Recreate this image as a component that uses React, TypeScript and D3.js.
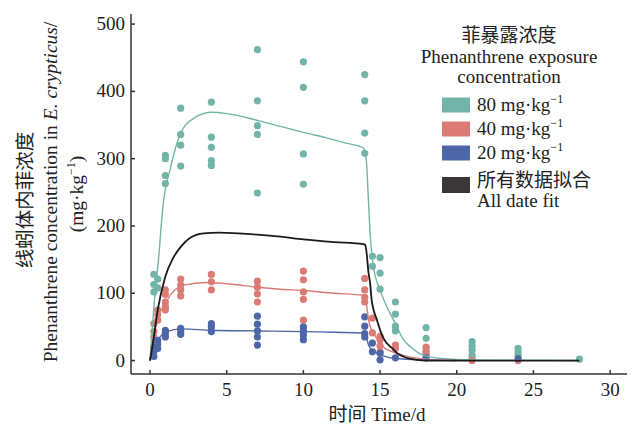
import React from "react";
import * as d3 from "d3";

// measured points: [time (d), concentration (mg/kg)]
const pts80: [number, number][] = [
  [0.25, 128], [0.25, 113], [0.25, 102], [0.5, 121], [0.5, 108],
  [1, 305], [1, 300], [1, 275], [1, 263],
  [2, 375], [2, 336], [2, 320], [2, 289],
  [4, 384], [4, 332], [4, 317], [4, 297], [4, 290],
  [7, 462], [7, 386], [7, 349], [7, 336], [7, 249],
  [10, 444], [10, 406], [10, 307], [10, 262],
  [14, 425], [14, 386], [14, 338], [14, 308],
  [14.5, 155], [14.5, 140],
  [15, 153], [15, 130], [15, 106],
  [16, 87], [16, 69], [16, 51], [16, 44],
  [18, 49], [18, 33], [18, 18], [18, 12],
  [21, 28], [21, 22], [21, 16], [21, 8], [21, 4],
  [24, 18], [24, 13], [24, 8],
  [28, 2],
];

const pts40: [number, number][] = [
  [0.25, 43], [0.25, 35], [0.25, 55],
  [0.5, 75], [0.5, 68], [0.5, 60],
  [1, 105], [1, 98], [1, 87], [1, 80], [1, 75],
  [2, 121], [2, 112], [2, 105], [2, 96],
  [4, 128], [4, 117], [4, 105],
  [7, 118], [7, 109], [7, 99], [7, 87],
  [10, 133], [10, 120], [10, 102], [10, 91], [10, 60],
  [14, 122], [14, 105], [14, 94], [14, 87],
  [14.5, 63], [14.5, 41],
  [15, 36], [15, 31], [15, 22], [15, 13],
  [16, 23], [16, 18],
  [18, 20], [18, 13], [18, 8],
  [21, 0], [24, 0],
];

const pts20: [number, number][] = [
  [0.25, 20], [0.25, 13], [0.25, 6],
  [0.5, 30], [0.5, 25], [0.5, 18],
  [1, 45], [1, 40], [1, 35],
  [2, 48], [2, 43], [2, 39],
  [4, 55], [4, 50], [4, 43],
  [7, 66], [7, 54], [7, 44], [7, 35], [7, 23],
  [10, 50], [10, 44], [10, 38], [10, 31],
  [14, 65], [14, 51], [14, 40], [14, 35],
  [14.5, 26], [14.5, 13],
  [15, 11], [15, 1],
  [16, 4], [18, 4], [24, 3],
];

// fitted curves
const fit80: [number, number][] = [
  [0, 0], [0.33, 100], [0.55, 150], [0.87, 235], [1.3, 283], [2, 338], [3, 362],
  [4, 369], [5, 367], [7, 357], [8.5, 348], [10, 339], [11.5, 331], [12.8, 323],
  [13.9, 316], [14.1, 298], [14.25, 234],
  [14.35, 189], [14.57, 139], [15, 105], [15.44, 80], [16, 55], [16.5, 32], [17, 20],
  [17.8, 8], [19, 3], [21, 1], [28, 0],
];
const fit40: [number, number][] = [
  [0, 0], [0.25, 38], [0.54, 65], [1, 85], [1.5, 102], [2.2, 112], [3.7, 116],
  [5.5, 113], [7, 109], [8.5, 106], [10, 104], [12, 100], [13.9, 97], [14.1, 85],
  [14.25, 60], [14.45, 45], [14.8, 33],
  [15.2, 20], [16.1, 11], [17, 5], [18, 2], [20, 0],
];
const fit20: [number, number][] = [
  [0, 0], [0.33, 20], [0.65, 35], [1.1, 43], [2, 47], [4, 45], [7, 44], [10, 43],
  [12, 42], [13.9, 41], [14.1, 35], [14.25, 23], [14.45, 16], [14.8, 11], [15.2, 7],
  [16, 3], [18, 1], [20, 0],
];
const fitAll: [number, number][] = [
  [0, 0], [0.25, 35], [0.5, 75], [1, 125], [1.5, 152], [2, 169], [2.6, 182],
  [3.5, 189], [4.5, 190], [7, 187], [8.5, 184], [10, 180], [12, 176], [13.9, 173],
  [14.03, 172], [14.1, 164],
  [14.25, 130], [14.35, 115], [14.45, 90], [14.8, 60], [15.2, 34], [15.9, 16],
  [16.1, 11], [16.5, 6], [17.4, 1], [18, 0], [28, 0],
];

const xTicks = [0, 5, 10, 15, 20, 25, 30];
const yTicks = [0, 100, 200, 300, 400, 500];
const legendRows = ["80", "40", "20"];

const C80 = "#72b5a8";
const C40 = "#dc7b76";
const C20 = "#4d66a8";
const CALL = "#1a1a1a";

const FONT = "'Liberation Serif', 'Noto Sans CJK SC', serif";

export default function App() {
  const x = d3.scaleLinear().domain([-1.24, 31.1]).range([131, 627]);
  const y = d3.scaleLinear().domain([-20, 515]).range([374, 14]);

  const line = d3
    .line<[number, number]>()
    .x((d) => x(d[0]))
    .y((d) => y(d[1]))
    .curve(d3.curveMonotoneX);

  const dots = (data: [number, number][], color: string) =>
    data.map((d, i) => (
      <circle key={color + i} cx={x(d[0])} cy={y(d[1])} r={3.6} fill={color} />
    ));

  const swatchColors = [C80, C40, C20];

  return (
    <svg
      width={636}
      height={428}
      style={{ position: "absolute", left: 0, top: 0, background: "#fff" }}
      fontFamily={FONT}
    >
      {dots(pts80, C80)}
      {dots(pts40, C40)}
      {dots(pts20, C20)}

      <path d={line(fit80) || ""} fill="none" stroke={C80} strokeWidth={1.4} />
      <path d={line(fit40) || ""} fill="none" stroke={C40} strokeWidth={1.4} />
      <path d={line(fit20) || ""} fill="none" stroke={C20} strokeWidth={1.4} />
      <path d={line(fitAll) || ""} fill="none" stroke={CALL} strokeWidth={1.8} />

      {/* axes */}
      <g stroke="#333" strokeWidth={1.5} fill="none">
        <line x1={131} y1={14} x2={131} y2={374} />
        <line x1={131} y1={374} x2={627} y2={374} />
        {yTicks.map((t) => (
          <line key={"yt" + t} x1={131} x2={135} y1={y(t)} y2={y(t)} />
        ))}
        {xTicks.map((t) => (
          <line key={"xt" + t} x1={x(t)} x2={x(t)} y1={374} y2={370} />
        ))}
      </g>
      <g fontSize={19} fill="#222">
        {yTicks.map((t) => (
          <text key={"yl" + t} x={125} y={y(t) + 6} textAnchor="end">
            {t}
          </text>
        ))}
        {xTicks.map((t) => (
          <text key={"xl" + t} x={x(t)} y={396} textAnchor="middle">
            {t}
          </text>
        ))}
        <text x={377} y={421} textAnchor="middle">
          时间 Time/d
        </text>
      </g>

      {/* y axis title */}
      <g fontSize={19.5} fill="#222">
        <text transform="translate(32,200) rotate(-90)" textAnchor="middle">
          线蚓体内菲浓度
        </text>
        <text transform="translate(57,192) rotate(-90)" textAnchor="middle">
          Phenanthrene concentration in <tspan fontStyle="italic">E. crypticus</tspan>/
        </text>
        <text transform="translate(83,194) rotate(-90)" textAnchor="middle">
          (mg·kg<tspan fontSize={12} dy={-8}>−1</tspan>
          <tspan dy={8}>)</tspan>
        </text>
      </g>

      {/* legend */}
      <g fontSize={19} fill="#222">
        <text x={509} y={42} textAnchor="middle">菲暴露浓度</text>
        <text x={509} y={63} textAnchor="middle">Phenanthrene exposure</text>
        <text x={509} y={83} textAnchor="middle">concentration</text>
        {legendRows.map((r, i) => {
          const cy = [105, 129, 153][i];
          return (
            <g key={r}>
              <rect x={442} y={cy - 7.5} width={28} height={15} fill={swatchColors[i]} />
              <text x={477} y={cy + 6}>
                {r} mg·kg<tspan fontSize={12} dy={-8}>−1</tspan>
              </text>
            </g>
          );
        })}
        <rect x={442} y={177} width={28} height={16} fill="#3b3738" />
        <text x={477} y={187}>所有数据拟合</text>
        <text x={477} y={207}>All date fit</text>
      </g>
    </svg>
  );
}
